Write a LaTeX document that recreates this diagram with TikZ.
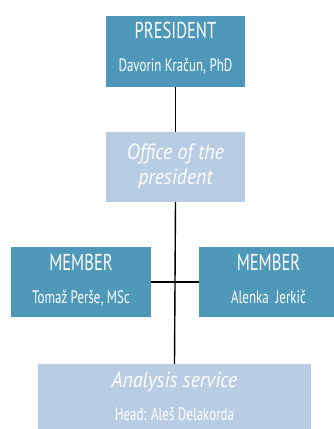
\documentclass[tikz,border=0pt]{standalone}
\usepackage{fontspec}
\setmainfont[FakeStretch=0.72]{PT Sans}
\newfontfamily\slantfont[FakeStretch=0.9]{PT Sans}
\usetikzlibrary{positioning}

\definecolor{orgdark}{RGB}{78,152,186}
\definecolor{orglight}{RGB}{184,204,228}

\tikzset{
  darkbox/.style={fill=orgdark, draw=none, inner sep=0pt, minimum width=140pt, minimum height=71pt},
  lightbox/.style={fill=orglight, draw=none, inner sep=0pt, minimum width=139pt, minimum height=70pt},
  headtext/.style={text=white, inner sep=0pt, anchor=base, font=\fontsize{23}{23}\selectfont},
  subtext/.style={text=white, inner sep=0pt, anchor=base, font=\fontsize{18}{18}\selectfont},
  ittext/.style={text=white, inner sep=0pt, anchor=base, font=\slantfont\fontsize{22}{22}\selectfont\itshape},
  link/.style={line width=1.4pt, black}
}

\begin{document}
\begin{tikzpicture}[x=1pt,y=-1pt]
\useasboundingbox [fill=white] (0,0) rectangle (333,429);%画布

	\node [darkbox, minimum width=139pt] (pres) at (175.5,51.5) {};%主席
	\node [lightbox] (office) at (175.5,167) {};%办公室
	\node [darkbox, minimum height=70pt] (memA) at (81,282) {};%左成员
	\node [darkbox, minimum height=70pt] (memB) at (269,282) {};%右成员
	\node [lightbox, minimum width=273pt] (anal) at (174.5,399) {};%分析服务

	\draw [link] (pres.south) -- (office.north);
	\draw [link] (office.south) -- (anal.north);
	\draw [link] (memA.east) -- (memB.west);

	\node [headtext] (presT) at ([yshift=-22.3pt]pres.north) {PRESIDENT};
	\node [subtext] (presS) at ([yshift=-55.7pt]pres.north) {Davorin Kračun, PhD};
	\node [ittext] (officeA) at ([yshift=-28pt]office.north) {Office of the};
	\node [ittext] (officeB) at ([yshift=-52.5pt]office.north) {president};
	\node [headtext] (memAT) at ([yshift=-23.7pt]memA.north) {MEMBER};
	\node [subtext] (memAS) at ([yshift=-56.3pt]memA.north) {Tomaž Perše, MSc};
	\node [headtext] (memBT) at ([xshift=-0.5pt,yshift=-23.7pt]memB.north) {MEMBER};
	\node [subtext] (memBS) at ([xshift=-0.5pt,yshift=-56.3pt]memB.north) {Alenka~ Jerkič};
	\node [ittext] (analT) at ([yshift=-23.3pt]anal.north) {Analysis service};
	\node [subtext] (analS) at ([yshift=-57pt]anal.north) {Head: Aleš Delakorda};
\end{tikzpicture}
\end{document}
